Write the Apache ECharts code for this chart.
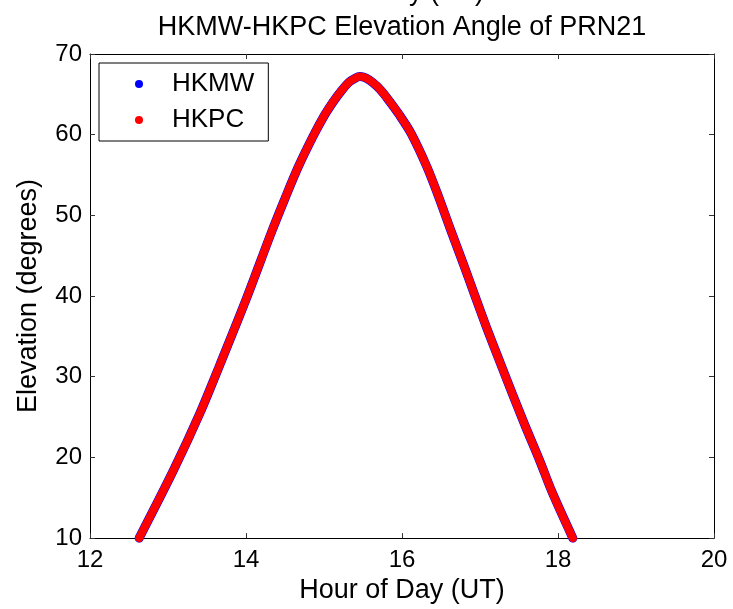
<!DOCTYPE html>
<html>
<head>
<meta charset="utf-8">
<script src="https://cdn.jsdelivr.net/npm/echarts@6/dist/echarts.min.js"></script>
<style>html,body{margin:0;padding:0;background:#fff;}#c{width:733px;height:609px;}</style>
</head>
<body>
<div id="c"></div>
<script>
// Hour of day (UT) and elevation (degrees)
const hours = [12.63, 13.07, 13.41, 13.67, 14.01, 14.33, 14.50, 14.67, 14.86, 15.00, 15.12, 15.22, 15.32, 15.40, 15.46, 15.54, 15.62, 15.72, 15.82, 15.97, 16.12, 16.32, 16.47, 16.62, 16.79, 16.94, 17.08, 17.24, 17.41, 17.58, 17.77, 17.92, 18.19];
const hkmwElev = [10.0, 18.4, 25.5, 31.6, 39.8, 48.0, 52.1, 56.0, 59.8, 62.3, 64.1, 65.4, 66.5, 67.0, 67.2, 67.0, 66.5, 65.6, 64.4, 62.4, 60.1, 56.0, 52.3, 48.3, 43.9, 39.9, 36.2, 32.2, 28.0, 23.9, 19.5, 15.8, 10.0];
const hkpcElev = [10.0, 18.4, 25.5, 31.6, 39.8, 48.0, 52.1, 56.0, 59.8, 62.3, 64.1, 65.4, 66.5, 67.0, 67.2, 67.0, 66.5, 65.6, 64.4, 62.4, 60.1, 56.0, 52.3, 48.3, 43.9, 39.9, 36.2, 32.2, 28.0, 23.9, 19.5, 15.8, 10.0];
const seriesNames = ['HKMW', 'HKPC'];
const titleText = 'Tuesday (UT)\nHKMW-HKPC Elevation Angle of PRN21';
const xName = 'Hour of Day (UT)';
const yName = 'Elevation (degrees)';

const FONT = "'Liberation Sans', Arial, sans-serif";
const pairs = (xs, ys) => xs.map((x, i) => [x, ys[i]]);

const chart = echarts.init(document.getElementById('c'), null, {renderer: 'canvas'});
const axisCommon = {
  axisLine: {show: true, onZero: false, lineStyle: {color: '#000', width: 1}},
  axisTick: {show: true, inside: true, length: 5, lineStyle: {color: '#333'}},
  splitLine: {show: false}
};
chart.setOption({
  animation: false,
  backgroundColor: '#fff',
  title: {
    text: titleText,
    left: 397, top: -30, textAlign: 'center',
    textStyle: {fontFamily: FONT, fontSize: 27, fontWeight: 'normal', color: '#000', lineHeight: 35}
  },
  legend: {
    data: seriesNames,
    orient: 'vertical',
    left: 99, top: 63,
    icon: 'circle',
    itemWidth: 56, itemHeight: 8,
    itemGap: 10,
    padding: [8, 14, 8, 36],
    borderColor: '#000', borderWidth: 1, backgroundColor: '#fff',
    textStyle: {fontFamily: FONT, fontSize: 26, color: '#000', lineHeight: 26}
  },
  grid: {left: 90, right: 19, top: 54, bottom: 67.5, containLabel: false},
  xAxis: [
    Object.assign({
      type: 'value', min: 12, max: 20, interval: 2, position: 'bottom',
      name: xName, nameLocation: 'middle', nameGap: 33,
      nameTextStyle: {fontFamily: FONT, fontSize: 27, color: '#000'},
      axisLabel: {fontFamily: FONT, fontSize: 24, color: '#000', margin: 10}
    }, axisCommon),
    Object.assign({
      type: 'value', min: 12, max: 20, interval: 2, position: 'top',
      axisLabel: {show: false}
    }, axisCommon)
  ],
  yAxis: [
    Object.assign({
      type: 'value', min: 10, max: 70, interval: 10, position: 'left',
      name: yName, nameLocation: 'middle', nameGap: 48, nameRotate: 90,
      nameTextStyle: {fontFamily: FONT, fontSize: 27, color: '#000'},
      axisLabel: {fontFamily: FONT, fontSize: 24, color: '#000', margin: 8}
    }, axisCommon),
    Object.assign({
      type: 'value', min: 10, max: 70, interval: 10, position: 'right',
      axisLabel: {show: false}
    }, axisCommon)
  ],
  series: [
    {
      name: seriesNames[0], type: 'line', data: pairs(hours, hkmwElev),
      xAxisIndex: 0, yAxisIndex: 0, showSymbol: false, symbol: 'circle', clip: false,
      smooth: 0.3,
      itemStyle: {color: '#0000ff'},
      lineStyle: {color: '#0000ff', width: 9, cap: 'round', join: 'round'}
    },
    {
      name: seriesNames[1], type: 'line', data: pairs(hours, hkpcElev),
      xAxisIndex: 0, yAxisIndex: 0, showSymbol: false, symbol: 'circle', clip: false,
      smooth: 0.3,
      itemStyle: {color: '#ff0000'},
      lineStyle: {color: '#ff0000', width: 8, cap: 'round', join: 'round'}
    }
  ]
});
</script>
</body>
</html>
